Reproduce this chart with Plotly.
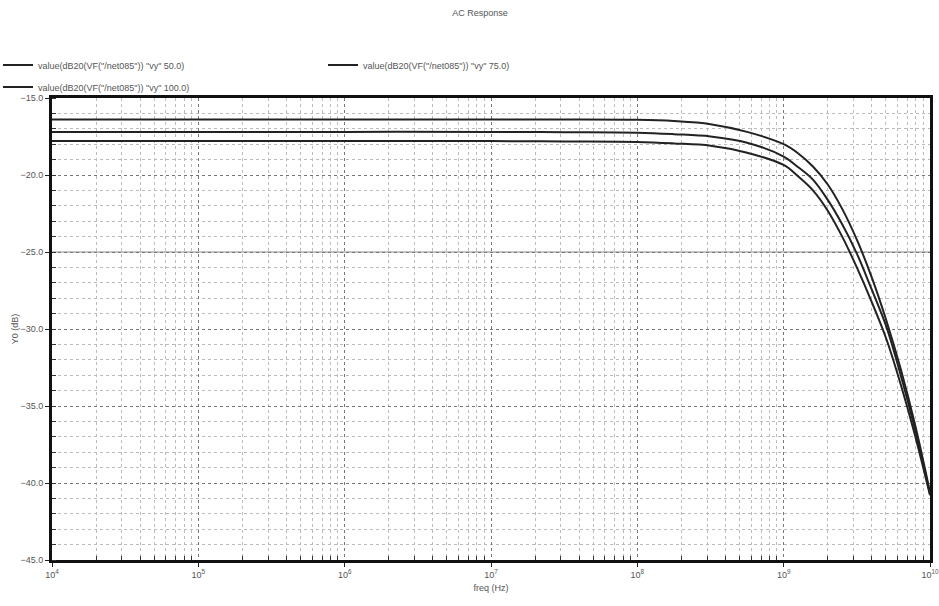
import plotly.graph_objects as go

# ---- data ----
log_freq = [4, 5, 6, 7, 7.5, 8, 8.25, 8.5, 8.75, 9.0, 9.1, 9.2, 9.3, 9.4, 9.5, 9.6, 9.7, 9.8, 9.9, 10.0]
freq = [10 ** v for v in log_freq]

y_vy50 = [-16.4, -16.4, -16.4, -16.4, -16.4, -16.42, -16.5, -16.7, -17.2, -18.0, -18.6, -19.45, -20.6, -22.2, -24.2, -26.6, -29.4, -32.6, -36.3, -40.6]
y_vy75 = [-17.2, -17.2, -17.2, -17.2, -17.22, -17.25, -17.35, -17.5, -17.9, -18.8, -19.5, -20.3, -21.6, -23.2, -25.1, -27.4, -29.8, -33.0, -36.6, -40.7]
y_vy100 = [-17.8, -17.8, -17.8, -17.8, -17.82, -17.85, -17.95, -18.1, -18.55, -19.35, -20.1, -21.0, -22.3, -24.0, -26.0, -28.2, -30.6, -33.6, -37.0, -40.8]

series_names = [
    'value(dB20(VF("/net085")) "vy" 50.0)',
    'value(dB20(VF("/net085")) "vy" 75.0)',
    'value(dB20(VF("/net085")) "vy" 100.0)',
]
series_values = [y_vy50, y_vy75, y_vy100]

decade_exps = [4, 5, 6, 7, 8, 9, 10]
decade_ticks = [10 ** e for e in decade_exps]
decade_text = ["10<sup>%d</sup>" % e for e in decade_exps]
minor_x = [m * 10 ** e for e in decade_exps[:-1] for m in range(2, 10)]

y_ticks = [-45, -40, -35, -30, -25, -20, -15]
y_ref_line = -25

# ---- figure ----
W, H = 939, 606
ml, mr, mt, mb = 52, 9, 98, 46
pw, ph = W - ml - mr, H - mt - mb

font = dict(family="Liberation Sans, Arial, sans-serif", size=9, color="#555")

fig = go.Figure()
legend_ids = ["legend", "legend2", "legend3"]
for name, vals, lg in zip(series_names, series_values, legend_ids):
    fig.add_trace(go.Scatter(
        x=freq, y=vals, mode="lines", name=name,
        line=dict(color="#222", width=2, shape="spline", smoothing=1.0),
        legend=lg, showlegend=True,
    ))

fig.add_hline(y=y_ref_line, line=dict(color="#b0b0b0", width=1.5), layer="below")

def px_x(px):
    return (px - ml) / pw

def px_y(py):
    return 1 + (mt - py) / ph

leg_common = dict(font=font, bgcolor="rgba(0,0,0,0)", borderwidth=0,
                  xanchor="left", yanchor="middle", itemwidth=30, visible=True)

fig.update_layout(
    width=W, height=H,
    margin=dict(l=ml, r=mr, t=mt, b=mb, autoexpand=False),
    paper_bgcolor="white", plot_bgcolor="white",
    font=font,
    showlegend=True,
    title=dict(text="AC Response", x=480 / W, xanchor="center",
               y=1 - 13 / H, yanchor="middle", font=font),
    legend=dict(x=px_x(-2), y=px_y(65), **leg_common),
    legend2=dict(x=px_x(323), y=px_y(65), **leg_common),
    legend3=dict(x=px_x(-2), y=px_y(87), **leg_common),
    xaxis=dict(
        type="log", range=[4, 10], automargin=False,
        tickvals=decade_ticks, ticktext=decade_text, ticklabeloverflow="allow",
        ticks="outside", ticklen=4, tickcolor="#222",
        showline=True, mirror=True, linecolor="#111", linewidth=3,
        showgrid=True, gridcolor="#777", griddash="dot", gridwidth=1,
        zeroline=False,
        title=dict(text="freq (Hz)", font=font, standoff=6),
        minor=dict(tickvals=minor_x, ticks="inside", ticklen=4, tickcolor="#333",
                   showgrid=True, gridcolor="#bbb", griddash="dot", gridwidth=1),
    ),
    yaxis=dict(
        range=[-45, -15], tickvals=y_ticks, tickformat=".1f", automargin=False,
        ticks="outside", ticklen=4, tickcolor="#222",
        showline=True, mirror=True, linecolor="#111", linewidth=3,
        showgrid=True, gridcolor="#777", griddash="dot", gridwidth=1,
        zeroline=False,
        title=dict(text="Y0 (dB)", font=font, standoff=0),
        minor=dict(dtick=1, ticks="inside", ticklen=4, tickcolor="#333",
                   showgrid=True, gridcolor="#bbb", griddash="dot", gridwidth=1),
    ),
)

fig.write_html(
    "out.html",
    config={"displayModeBar": False},
    post_script="document.body.style.margin='0';document.documentElement.style.overflow='hidden';",
)
